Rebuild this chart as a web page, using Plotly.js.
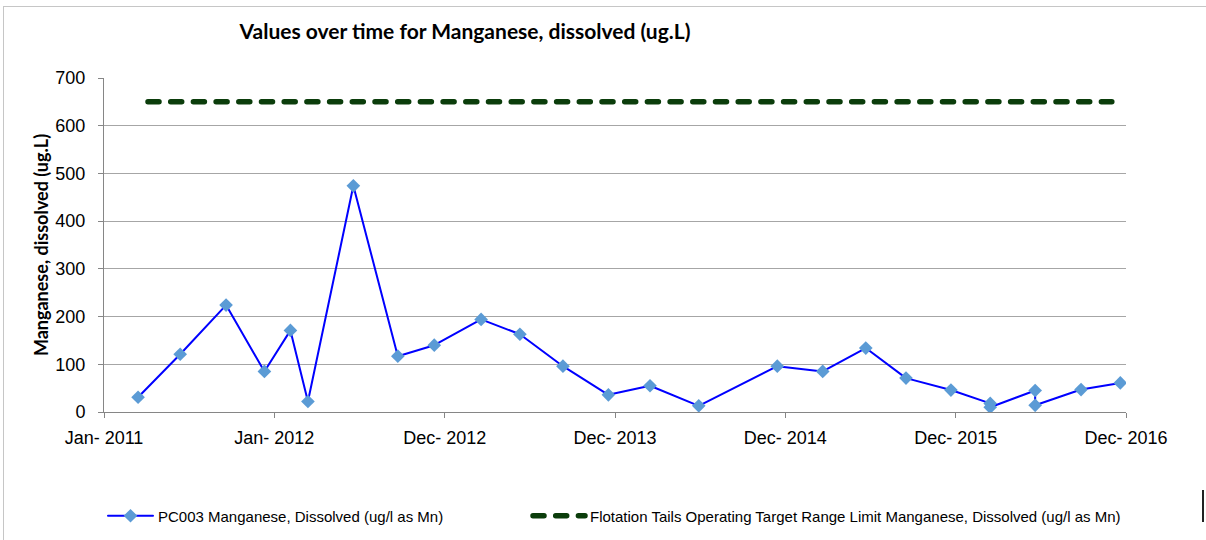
<!DOCTYPE html>
<html><head><meta charset="utf-8">
<script src="https://cdn.plot.ly/plotly-3.0.1.min.js"></script>
<style>
html,body{margin:0;padding:0;background:#fff;}
#wrap{position:relative;width:1206px;height:540px;overflow:hidden;}
#chart{position:absolute;left:0;top:0;width:1206px;height:540px;}
#frame{position:absolute;left:3px;top:6px;width:1203px;height:534px;border-left:1px solid #c6c6c6;border-top:1px solid #c6c6c6;pointer-events:none;}
#mark{position:absolute;left:1202px;top:490px;width:2px;height:32px;background:#222;pointer-events:none;}
.js-line{stroke-linecap:round;stroke-linejoin:round;}
</style></head>
<body><div id="wrap"><div id="chart"></div><div id="frame"></div><div id="mark"></div></div>
<script>
// ---- data ----
const sampleDates = ['2011-03-21','2011-06-18','2011-09-23','2011-12-13','2012-02-06','2012-03-14',
  '2012-06-18','2012-09-20','2012-12-06','2013-03-15','2013-06-05','2013-09-04','2013-12-09',
  '2014-03-07','2014-06-18','2014-12-01','2015-03-07','2015-06-06','2015-08-30','2015-12-03',
  '2016-02-24','2016-02-24','2016-05-29','2016-05-29','2016-09-03','2016-11-25'];
const sampleValues = [31,121,224,85,171,22,474,117,140,194,163,96,36,55,13,96,85,134,71,46,18,10,45,14,47,61];
const limitDates = ['2011-04-11','2016-11-07'];
const limitValues = [650,650];
const tickDates = ['2011-01-08','2012-01-03','2012-12-28','2013-12-23','2014-12-18','2015-12-13','2016-12-07'];
const tickLabels = ['Jan- 2011','Jan- 2012','Dec- 2012','Dec- 2013','Dec- 2014','Dec- 2015','Dec- 2016'];
const yTicks = [0,100,200,300,400,500,600,700];
const seriesNames = ['PC003 Manganese, Dissolved (ug/l as Mn)',
  'Flotation Tails Operating Target Range Limit Manganese, Dissolved (ug/l as Mn)'];
const chartTitle = 'Values over time for Manganese, dissolved (ug.L)';
const yTitle = 'Manganese, dissolved (ug.L)';

const W = 1206, H = 540;
const M = {l:104, r:80, t:78, b:128, autoexpand:false};
const PW = W - M.l - M.r, PH = H - M.t - M.b;
const px2x = p => (p - M.l) / PW;
const py2y = p => (H - M.b - p) / PH;

const traces = [
  {type:'scatter', mode:'lines+markers', x:sampleDates, y:sampleValues, name:seriesNames[0],
   line:{color:'#0000ff', width:2},
   marker:{symbol:'diamond', size:10.5, color:'#5b9bd5', line:{width:0}},
   legend:'legend', uid:'samples'},
  {type:'scatter', mode:'lines', x:limitDates, y:limitValues, name:seriesNames[1],
   line:{color:'#0b3d0b', width:5.5, dash:'11px,11.7px'},
   legend:'legend2', uid:'target'}
];

const tickFont = {family:'"Liberation Sans", Arial, sans-serif', size:18, color:'#000'};
const legFont = {family:'"Liberation Sans", Arial, sans-serif', size:15, color:'#000'};

const layout = {
  width:W, height:H, margin:M,
  paper_bgcolor:'#fff', plot_bgcolor:'#fff',
  showlegend:true,
  title:{text:chartTitle, font:{family:'Lato, "Open Sans", sans-serif', size:21, weight:'bold', color:'#000'},
    x:465/W, xref:'container', xanchor:'center', y:1-32/H, yref:'container', yanchor:'middle'},
  xaxis:{type:'date', range:[tickDates[0], tickDates[tickDates.length-1]], automargin:false,
    tickmode:'array', tickvals:tickDates, ticktext:tickLabels,
    showgrid:false, zeroline:false, showline:true, linecolor:'#868686', linewidth:1,
    ticks:'outside', ticklen:5, tickcolor:'#868686', tickfont:tickFont, ticklabelstandoff:4},
  yaxis:{range:[0,700], tickmode:'array', tickvals:yTicks, automargin:false,
    showgrid:true, gridcolor:'#a6a6a6', gridwidth:1, zeroline:false,
    showline:true, linecolor:'#868686', linewidth:1,
    ticks:'outside', ticklen:5, tickcolor:'#868686', tickfont:tickFont, ticklabelstandoff:9,
    title:{text:yTitle, font:{family:'Lato, "Open Sans", sans-serif', size:18, weight:'bold', color:'#000'}, standoff:2}},
  legend:{orientation:'h', x:px2x(103), xanchor:'left', y:py2y(516), yanchor:'middle',
    itemwidth:45, font:legFont, bgcolor:'rgba(0,0,0,0)', borderwidth:0},
  legend2:{orientation:'h', x:px2x(528), xanchor:'left', y:py2y(516), yanchor:'middle',
    itemwidth:52, font:legFont, bgcolor:'rgba(0,0,0,0)', borderwidth:0}
};

Plotly.newPlot('chart', traces, layout, {staticPlot:true, displayModeBar:false});
</script></body></html>
